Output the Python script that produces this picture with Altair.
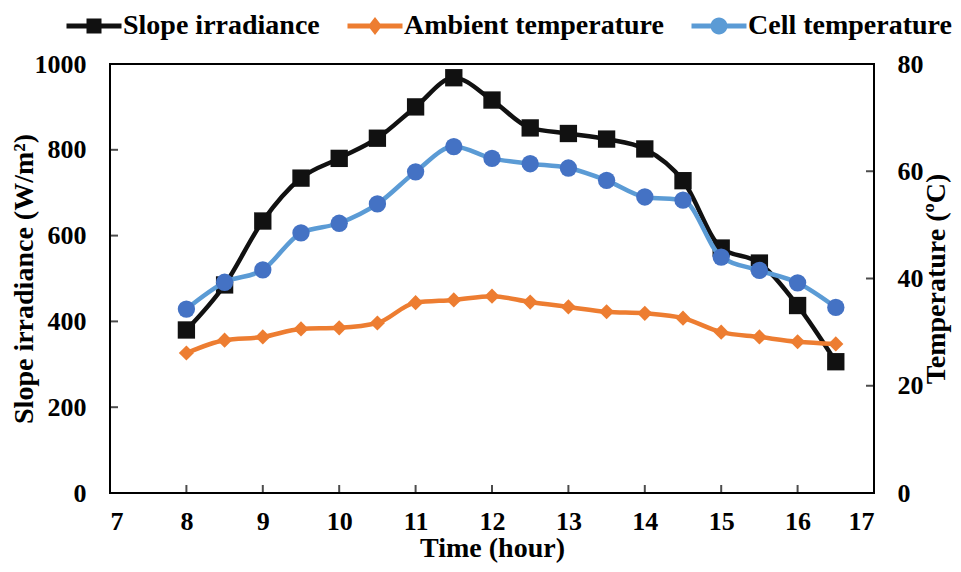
import altair as alt
import pandas as pd

hours = [8, 8.5, 9, 9.5, 10, 10.5, 11, 11.5, 12, 12.5, 13, 13.5, 14, 14.5, 15, 15.5, 16, 16.5]
slope_irradiance = [380, 485, 634, 734, 780, 827, 900, 968, 916, 851, 838, 825, 802, 728, 571, 536, 437, 306]
ambient_temp = [26.1, 28.5, 29.1, 30.6, 30.8, 31.7, 35.5, 36.0, 36.7, 35.6, 34.7, 33.8, 33.5, 32.6, 30.0, 29.1, 28.2, 27.8]
cell_temp = [34.3, 39.3, 41.6, 48.5, 50.3, 53.9, 59.9, 64.6, 62.4, 61.4, 60.6, 58.3, 55.2, 54.6, 44.0, 41.5, 39.2, 34.6]

series_names = ["Slope irradiance", "Ambient temperature", "Cell temperature"]
line_colors = ["#111111", "#ED7D31", "#5B9BD5"]
marker_colors = ["#111111", "#ED7D31", "#4472C4"]
x_ticks = list(range(7, 18))
irr_ticks = [0, 200, 400, 600, 800, 1000]
temp_ticks = [0, 20, 40, 60, 80]

FONT = "Liberation Serif"

irr_df = pd.DataFrame({"hour": hours, "value": slope_irradiance, "series": series_names[0]})
amb_df = pd.DataFrame({"hour": hours, "value": ambient_temp, "series": series_names[1]})
cell_df = pd.DataFrame({"hour": hours, "value": cell_temp, "series": series_names[2]})
temp_df = pd.concat([amb_df, cell_df], ignore_index=True)
legend_df = pd.DataFrame({"series": series_names, "hour": [hours[0]] * 3,
                          "value": [slope_irradiance[0]] * 3})
x_tick_df = pd.DataFrame({"t": x_ticks})
irr_tick_df = pd.DataFrame({"t": irr_ticks})
temp_tick_df = pd.DataFrame({"t": temp_ticks})

# legend symbols: a line segment with the series marker on it
LINE = "M-2.75,-0.25H2.75V0.25H-2.75Z"
SQUARE = LINE + " M-0.75,-0.75H0.75V0.75H-0.75Z"
DIAMOND = LINE + " M0,-0.9L0.7,0L0,0.9L-0.7,0Z"
CIRCLE = LINE + " M-0.85,0A0.85,0.85 0 1,1 0.85,0A0.85,0.85 0 1,1 -0.85,0Z"

color_scale = alt.Scale(domain=series_names, range=line_colors)
shape_scale = alt.Scale(domain=series_names, range=[SQUARE, DIAMOND, CIRCLE])

legend = alt.Legend(
    title=None, orient="none", legendX=-30, legendY=-52, direction="horizontal",
    labelFont=FONT, labelFontWeight="bold", labelFontSize=28, labelColor="black",
    labelLimit=500, labelOffset=15, columnPadding=27, symbolSize=400, padding=0,
    symbolOpacity=1, symbolStrokeWidth=0,
)

x_scale = alt.Scale(domain=[7, 17], nice=False)
irr_scale = alt.Scale(domain=[0, 1000], nice=False)
temp_scale = alt.Scale(domain=[0, 80], nice=False)

x_enc = alt.X("hour:Q", scale=x_scale,
              axis=alt.Axis(values=x_ticks, format="d", title="Time (hour)",
                            ticks=False, domain=False, labelPadding=15,
                            titleY=69, titleBaseline="bottom"))
y_left = alt.Y("value:Q", scale=irr_scale,
               axis=alt.Axis(values=irr_ticks, format="d", orient="left",
                             title="Slope irradiance (W/m²)",
                             ticks=False, domain=False, labelPadding=24,
                             titleX=-72, titleY=214.5, titleBaseline="bottom"))
y_right = alt.Y("value:Q", scale=temp_scale,
                axis=alt.Axis(values=temp_ticks, orient="right", title="Temperature (ºC)",
                              ticks=False, domain=False, labelPadding=23,
                              titleAngle=270, titleX=48, titleY=214.5, titleBaseline="top"))

# inward tick marks, placed through the scales
left_ticks = alt.Chart(irr_tick_df).mark_tick(orient="horizontal", size=8, thickness=2,
                                              color="black", xOffset=4).encode(
    x=alt.datum(7, scale=x_scale), y=alt.Y("t:Q", scale=irr_scale))
bottom_ticks = alt.Chart(x_tick_df).mark_tick(orient="vertical", size=8, thickness=2,
                                              color="black", yOffset=-4).encode(
    x=alt.X("t:Q", scale=x_scale), y=alt.datum(0, scale=irr_scale))
right_ticks = alt.Chart(temp_tick_df).mark_tick(orient="horizontal", size=8, thickness=2,
                                                color="black", xOffset=-4).encode(
    x=alt.datum(17, scale=x_scale), y=alt.Y("t:Q", scale=temp_scale))

# invisible layer that only carries the legend (placed first so its legend wins the merge)
legend_layer = alt.Chart(legend_df).mark_point(filled=True, size=400, opacity=0).encode(
    x=x_enc, y=y_left,
    color=alt.Color("series:N", scale=color_scale, legend=legend),
    shape=alt.Shape("series:N", scale=shape_scale, legend=legend),
)
irr_line = alt.Chart(irr_df).mark_line(strokeWidth=4.5, interpolate="monotone").encode(
    x=x_enc, y=y_left, color=alt.Color("series:N", scale=color_scale, legend=None))
irr_pts = alt.Chart(irr_df).mark_point(shape="square", filled=True, size=300, opacity=1,
                                       color=marker_colors[0]).encode(x=x_enc, y=y_left)
left = alt.layer(legend_layer, irr_line, irr_pts, left_ticks, bottom_ticks)

temp_line = alt.Chart(temp_df).mark_line(strokeWidth=4.5, interpolate="monotone").encode(
    x=x_enc, y=y_right, color=alt.Color("series:N", scale=color_scale, legend=None),
    detail="series:N")
amb_pts = alt.Chart(amb_df).mark_point(shape="diamond", filled=True, size=230, opacity=1,
                                       color=marker_colors[1]).encode(x=x_enc, y=y_right)
cell_pts = alt.Chart(cell_df).mark_point(shape="circle", filled=True, size=300, opacity=1,
                                         color=marker_colors[2]).encode(x=x_enc, y=y_right)
right = alt.layer(temp_line, amb_pts, cell_pts, right_ticks)

chart = alt.layer(left, right).resolve_scale(y="independent").properties(
    width=764, height=429,
    autosize=alt.AutoSizeParams(type="none"),
    padding={"left": 102, "top": 56, "right": 79, "bottom": 71},
).configure_view(stroke="black", strokeWidth=2).configure_axis(
    grid=False, labelFont=FONT, labelFontWeight="bold", labelFontSize=26,
    labelColor="black", titleFont=FONT, titleFontWeight="bold", titleFontSize=28,
    titleColor="black",
)

chart.save("out.html", embed_options={"renderer": "svg", "actions": False})
